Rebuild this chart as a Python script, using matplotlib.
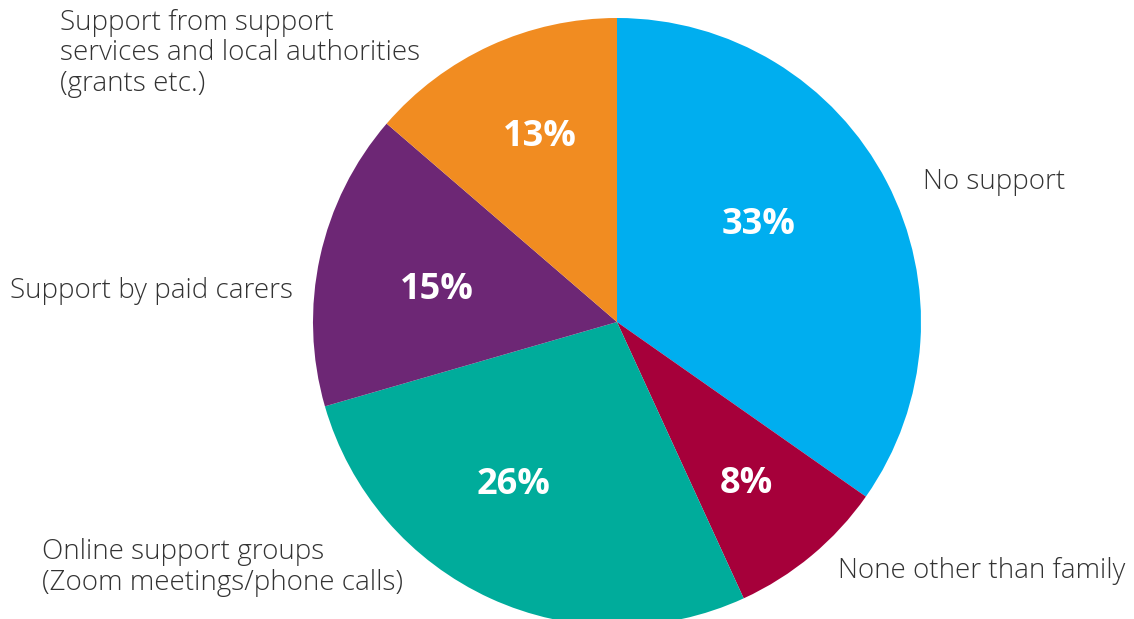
import matplotlib.pyplot as plt

labels = [
    "No support",
    "None other than family",
    "Online support groups\n(Zoom meetings/phone calls)",
    "Support by paid carers",
    "Support from support\nservices and local authorities\n(grants etc.)",
]
values = [33, 8, 26, 15, 13]
colors = ["#00AEEF", "#A6003A", "#00AC9B", "#6D2775", "#F18C21"]

W, H = 1134, 619
cx, cy, r = 617, 322, 304

fig = plt.figure(figsize=(W / 100, H / 100), dpi=100)
ax = fig.add_axes([(cx - r) / W, (H - cy - r) / H, 2 * r / W, 2 * r / H])

ax.pie(values, colors=colors, startangle=90, counterclock=False,
       radius=1, wedgeprops=dict(linewidth=0))
ax.set_xlim(-1, 1)
ax.set_ylim(-1, 1)
ax.set_aspect("equal")
ax.axis("off")

# percentage text inside each slice (pie radius units)
pct_pos = [(0.467, 0.319), (0.424, -0.533), (-0.342, -0.536),
           (-0.592, 0.105), (-0.253, 0.609)]
for v, (px, py) in zip(values, pct_pos):
    ax.text(px, py, f"{v}%", color="white", fontsize=26, fontweight="bold",
            family="Open Sans", ha="center", va="center")

# outside labels: left edge and baseline of the last line, in pixels
label_pos = [(923, 189), (838, 578), (42, 590), (10, 298), (60, 91)]
for lab, (lx, ly) in zip(labels, label_pos):
    fig.text(lx / W, 1 - ly / H, lab, color="#333333", fontsize=20,
             family="Open Sans", fontweight="light", ha="left",
             va="baseline", linespacing=1.13, multialignment="left")

fig.savefig("out.png", dpi=100)
